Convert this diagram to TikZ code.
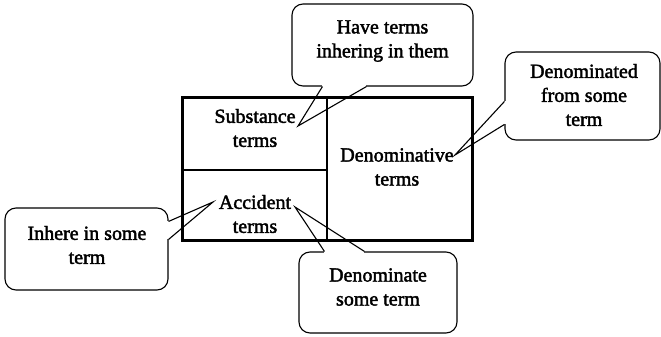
\documentclass[tikz,border=0pt]{standalone}
\usepackage{fontspec}
\setmainfont{Liberation Serif}[BoldFont=Liberation Serif,BoldFeatures={FakeBold=2}]
\usetikzlibrary{calc}
\begin{document}
\begin{tikzpicture}[x=1pt,y=-1pt,
  callout/.style={draw=black,line width=1.1pt,rounded corners=11pt,fill=white,inner sep=0pt},
  txt/.style={align=center,font=\fontsize{20}{24}\selectfont\bfseries,inner sep=0pt},
  tail/.style={draw=black,line width=1.1pt,line join=miter},
  erase/.style={draw=white,line width=2.4pt}]
\useasboundingbox (0,0) rectangle (661,337);
% main box
\draw[line width=1.8pt] (327,97) -- (327,240);
\draw[line width=1.8pt] (182,170) -- (327,170);
\draw[line width=3pt] (182,97) rectangle (472,240);
\node[txt] (sub) at (255,128) {Substance\\terms};
\node[txt] (acc) at (255,214) {Accident\\terms};
\node[txt] (den) at (397,167) {Denominative\\terms};
% callouts
\node[callout,minimum width=181pt,minimum height=82pt] (c1) at (382.5,45) {};
\node[txt] (t1) at (382.5,41) {Have terms\\inhering in them};
\node[callout,minimum width=155pt,minimum height=88pt] (c2) at (582.5,96) {};
\node[txt] (t2) at (584,95) {Denominated\\from some\\term};
\node[callout,minimum width=163pt,minimum height=82pt] (c3) at (86.5,249) {};
\node[txt] (t3) at (87,245) {Inhere in some\\term};
\node[callout,minimum width=158pt,minimum height=81pt] (c4) at (378,292.5) {};
\node[txt] (t4) at (378,287) {Denominate\\some term};
% tips
\coordinate (p1) at (298,126);
\coordinate (p2) at (455,155);
\coordinate (p3) at (213,202);
\coordinate (p4) at (295,207);
% tail 1
\coordinate (a1) at ($(c1.south west)+(31,0)$);
\coordinate (b1) at ($(c1.south west)+(75,0)$);
\draw[erase] (a1) -- (b1);
\draw[tail] (a1) -- (p1) -- (b1);
% tail 2
\coordinate (a2) at ($(c2.north west)+(0,50)$);
\coordinate (b2) at ($(c2.north west)+(0,73)$);
\draw[erase] (a2) -- (b2);
\draw[tail] (a2) -- (p2) -- (b2);
% tail 3
\coordinate (a3) at ($(c3.north east)+(0,14)$);
\coordinate (b3) at ($(c3.north east)+(0,32)$);
\draw[erase] (a3) -- (b3);
\draw[tail] (a3) -- (p3) -- (b3);
% tail 4
\coordinate (a4) at ($(c4.north west)+(26,0)$);
\coordinate (b4) at ($(c4.north west)+(66,0)$);
\draw[erase] (a4) -- (b4);
\draw[tail] (a4) -- (p4) -- (b4);
\end{tikzpicture}
\end{document}
